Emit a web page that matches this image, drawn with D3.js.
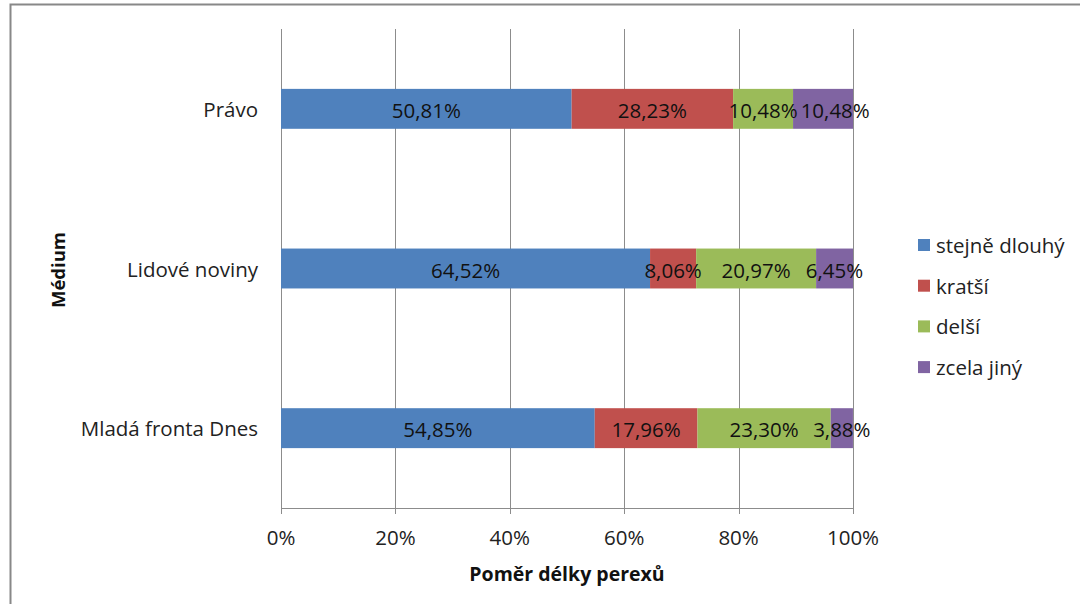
<!DOCTYPE html>
<html><head><meta charset="utf-8">
<script src="https://cdn.jsdelivr.net/npm/d3@7"></script>
<style>body{margin:0;background:#fff}svg{display:block}text{font-family:"Open Sans","Noto Sans",sans-serif}</style>
</head><body>
<svg id="c" width="1080" height="604"></svg>
<script>
const categories = ["Právo", "Lidové noviny", "Mladá fronta Dnes"];
const seriesNames = ["stejně dlouhý", "kratší", "delší", "zcela jiný"];
const seriesColors = ["#4F81BD", "#C0504D", "#9BBB59", "#8064A2"];
const stejneDlouhy = [50.81, 64.52, 54.85];
const kratsi = [28.23, 8.06, 17.96];
const delsi = [10.48, 20.97, 23.30];
const zcelaJiny = [10.48, 6.45, 3.88];
const xTicks = [0, 20, 40, 60, 80, 100];
const xTitle = "Poměr délky perexů";
const yTitle = "Médium";

const svg = d3.select("#c");
svg.append("rect").attr("x", 10.5).attr("y", 4.5).attr("width", 1100).attr("height", 700)
  .attr("fill", "#fff").attr("stroke", "#888").attr("stroke-width", 2);

const L = 281, R = 853, T = 29, B = 508;
const x = d3.scaleLinear().domain([0, 100]).range([L, R]);
const y = d3.scaleBand().domain(categories).range([T, B]).paddingInner(0.75).paddingOuter(0.375);

svg.append("g").selectAll("line").data(xTicks).join("line")
  .attr("x1", d => Math.round(x(d)) + 0.5).attr("x2", d => Math.round(x(d)) + 0.5)
  .attr("y1", T).attr("y2", B + 6).attr("stroke", "#8c8c8c").attr("stroke-width", 1);
svg.append("line").attr("x1", L).attr("x2", R + 1).attr("y1", B + 0.5).attr("y2", B + 0.5).attr("stroke", "#8c8c8c");
svg.append("line").attr("x1", L + 0.5).attr("x2", L + 0.5).attr("y1", T).attr("y2", B).attr("stroke", "#8c8c8c");

const seriesData = [stejneDlouhy, kratsi, delsi, zcelaJiny];
const rows = categories.map((c, i) => {
  const o = { cat: c };
  seriesNames.forEach((s, j) => o[s] = seriesData[j][i]);
  return o;
});
const stack = d3.stack().keys(seriesNames)(rows);

const fmt = v => v.toFixed(2).replace(".", ",") + "%";
stack.forEach((layer, j) => {
  svg.append("g").selectAll("rect").data(layer).join("rect")
    .attr("x", d => x(d[0])).attr("width", d => x(d[1]) - x(d[0]))
    .attr("y", d => y(d.data.cat)).attr("height", y.bandwidth())
    .attr("fill", seriesColors[j]);
});
const labelG = svg.append("g");
categories.forEach((c, i) => {
  let prevRight = -Infinity;
  stack.forEach((layer, j) => {
    const d = layer[i];
    let cx = (x(d[0]) + x(d[1])) / 2;
    const t = labelG.append("text")
      .attr("y", y(c) + y.bandwidth() / 2 + 1)
      .attr("text-anchor", "middle").attr("dominant-baseline", "central")
      .attr("font-size", 20.5).attr("fill", "#111")
      .text(fmt(d[1] - d[0]));
    const w = t.node().getComputedTextLength();
    if (cx - w / 2 < prevRight + 3) cx = prevRight + 3 + w / 2;
    t.attr("x", cx);
    prevRight = cx + w / 2;
  });
});

svg.append("g").selectAll("text").data(categories).join("text")
  .attr("x", 258).attr("y", d => y(d) + y.bandwidth() / 2)
  .attr("text-anchor", "end").attr("dominant-baseline", "central")
  .attr("font-size", 20.5).attr("fill", "#222").text(d => d);

svg.append("g").selectAll("text").data(xTicks).join("text")
  .attr("x", d => x(d)).attr("y", 537).attr("text-anchor", "middle").attr("dominant-baseline", "central")
  .attr("font-size", 20.5).attr("fill", "#222").text(d => d + "%");

svg.append("text").attr("x", 567).attr("y", 573).attr("text-anchor", "middle").attr("dominant-baseline", "central")
  .attr("font-size", 19.5).attr("font-weight", "bold").attr("fill", "#111").text(xTitle);
svg.append("text").attr("transform", "translate(57,270) rotate(-90)").attr("text-anchor", "middle")
  .attr("dominant-baseline", "central").attr("font-size", 18.5).attr("font-weight", "bold").attr("fill", "#111").text(yTitle);

const lg = svg.append("g").selectAll("g").data(seriesNames).join("g")
  .attr("transform", (d, i) => `translate(918,${245 + i * 40.7})`);
lg.append("rect").attr("x", 0).attr("y", -6).attr("width", 12).attr("height", 12).attr("fill", (d, i) => seriesColors[i]);
lg.append("text").attr("x", 18).attr("y", 0).attr("dominant-baseline", "central")
  .attr("font-size", 20.5).attr("fill", "#222").text(d => d);
</script>
</body></html>
